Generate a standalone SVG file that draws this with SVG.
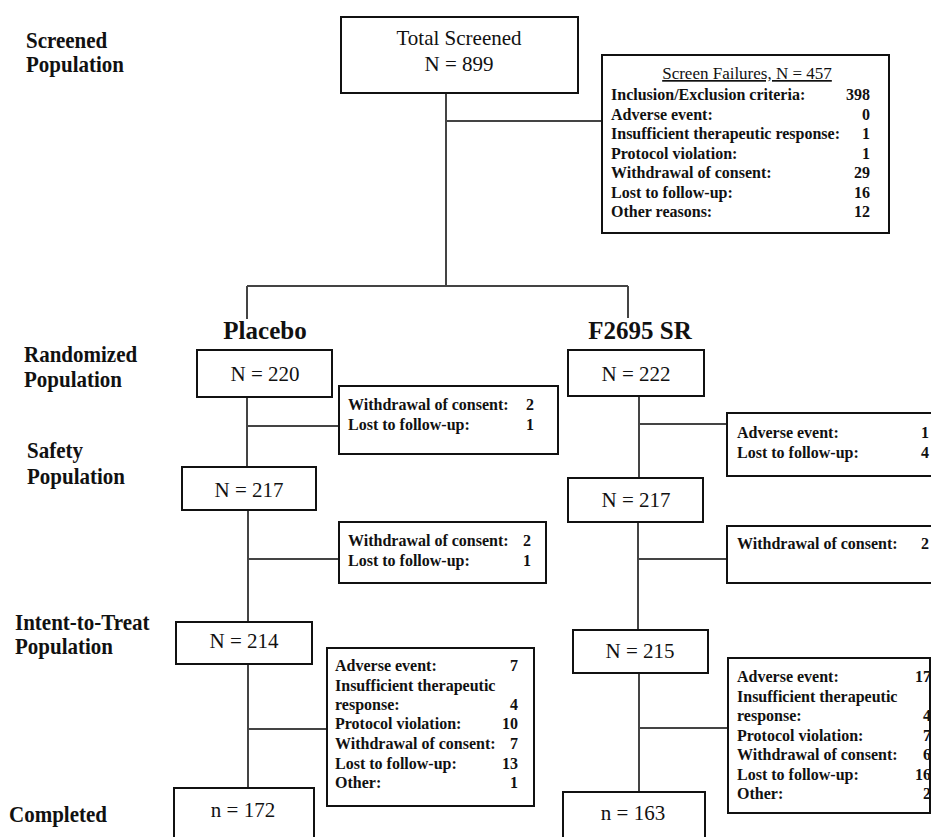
<svg xmlns="http://www.w3.org/2000/svg" width="931" height="837" viewBox="0 0 931 837">
  <style>
    .box { fill: #fff; stroke: #111; stroke-width: 2; }
    .wire { fill: none; stroke: #444; stroke-width: 2; }
    .stage { font-family: "Liberation Serif", "Times New Roman", serif; font-weight: bold; font-size: 23px; fill: #111; }
    .arm { font-family: "Liberation Serif", "Times New Roman", serif; font-weight: bold; font-size: 25px; fill: #111; text-anchor: middle; }
    .count { font-family: "Liberation Serif", "Times New Roman", serif; font-size: 21px; fill: #111; text-anchor: middle; }
    .row { font-family: "Liberation Serif", "Times New Roman", serif; font-weight: bold; font-size: 16px; fill: #111; }
    .num { text-anchor: end; }
  </style>
  <rect width="931" height="837" fill="#fff"/>

  <!-- stage labels on the left (tall, slightly condensed bold serif) -->
  <g id="stage-labels">
    <text class="stage" transform="translate(26,48) scale(0.913,1)">Screened</text>
    <text class="stage" transform="translate(26,72) scale(0.913,1)">Population</text>
    <text class="stage" transform="translate(24,362) scale(0.913,1)">Randomized</text>
    <text class="stage" transform="translate(24,387) scale(0.913,1)">Population</text>
    <text class="stage" transform="translate(27,458) scale(0.913,1)">Safety</text>
    <text class="stage" transform="translate(27,484) scale(0.913,1)">Population</text>
    <text class="stage" transform="translate(15,630) scale(0.913,1)">Intent-to-Treat</text>
    <text class="stage" transform="translate(15,654) scale(0.913,1)">Population</text>
    <text class="stage" transform="translate(9,822) scale(0.913,1)">Completed</text>
  </g>

  <!-- connectors -->
  <g id="connectors">
    <path class="wire" d="M446,93 V286 M446,121 H602 M247,286 H628 M247,286 V319 M628,286 V318"/>
    <!-- placebo arm -->
    <path class="wire" d="M247,397 V467 M247,426 H339"/>
    <path class="wire" d="M248,510 V622 M248,559 H339"/>
    <path class="wire" d="M248,664 V788 M248,729 H327"/>
    <!-- active arm -->
    <path class="wire" d="M639,396 V478 M639,424 H727"/>
    <path class="wire" d="M638,522 V630 M638,559 H727"/>
    <path class="wire" d="M639,673 V792 M639,728 H728"/>
  </g>

  <g id="total-screened">
    <rect class="box" x="341" y="17" width="237" height="76"/>
    <text class="count" x="459" y="45">Total Screened</text>
    <text class="count" x="459" y="71">N = 899</text>
  </g>

  <g id="screen-failures">
    <rect class="box" x="602" y="55" width="287" height="178"/>
    <text x="747" y="79" text-anchor="middle" font-family="Liberation Serif, Times New Roman, serif" font-size="17" fill="#111" text-decoration="underline">Screen Failures, N = 457</text>
    <text class="row" x="611" y="100">Inclusion/Exclusion criteria:</text>
    <text class="row num" x="870" y="100">398</text>
    <text class="row" x="611" y="119.5">Adverse event:</text>
    <text class="row num" x="870" y="119.5">0</text>
    <text class="row" x="611" y="139">Insufficient therapeutic response:</text>
    <text class="row num" x="870" y="139">1</text>
    <text class="row" x="611" y="158.5">Protocol violation:</text>
    <text class="row num" x="870" y="158.5">1</text>
    <text class="row" x="611" y="178">Withdrawal of consent:</text>
    <text class="row num" x="870" y="178">29</text>
    <text class="row" x="611" y="197.5">Lost to follow-up:</text>
    <text class="row num" x="870" y="197.5">16</text>
    <text class="row" x="611" y="217">Other reasons:</text>
    <text class="row num" x="870" y="217">12</text>
  </g>

  <g id="arm-placebo">
    <text class="arm" x="265" y="339">Placebo</text>
  </g>
  <g id="arm-active">
    <text class="arm" x="640" y="339">F2695 SR</text>
  </g>

  <!-- placebo arm nodes -->
  <g id="placebo-randomized">
    <rect class="box" x="197" y="350" width="135" height="47"/>
    <text class="count" x="265" y="381">N = 220</text>
  </g>
  <g id="placebo-drop-1">
    <rect class="box" x="339" y="386" width="219" height="68"/>
    <text class="row" x="348" y="410">Withdrawal of consent:</text>
    <text class="row num" x="534" y="410">2</text>
    <text class="row" x="348" y="430">Lost to follow-up:</text>
    <text class="row num" x="534" y="430">1</text>
  </g>
  <g id="placebo-safety">
    <rect class="box" x="182" y="467" width="134" height="43"/>
    <text class="count" x="249" y="497">N = 217</text>
  </g>
  <g id="placebo-drop-2">
    <rect class="box" x="339" y="522" width="207" height="61"/>
    <text class="row" x="348" y="546">Withdrawal of consent:</text>
    <text class="row num" x="531" y="546">2</text>
    <text class="row" x="348" y="566">Lost to follow-up:</text>
    <text class="row num" x="531" y="566">1</text>
  </g>
  <g id="placebo-itt">
    <rect class="box" x="176" y="622" width="136" height="42"/>
    <text class="count" x="244" y="648">N = 214</text>
  </g>
  <g id="placebo-drop-3">
    <rect class="box" x="327" y="648" width="207" height="158"/>
    <text class="row" x="335" y="671">Adverse event:</text>
    <text class="row num" x="518" y="671">7</text>
    <text class="row" x="335" y="691">Insufficient therapeutic</text>
    <text class="row" x="335" y="710">response:</text>
    <text class="row num" x="518" y="710">4</text>
    <text class="row" x="335" y="729">Protocol violation:</text>
    <text class="row num" x="518" y="729">10</text>
    <text class="row" x="335" y="749">Withdrawal of consent:</text>
    <text class="row num" x="518" y="749">7</text>
    <text class="row" x="335" y="769">Lost to follow-up:</text>
    <text class="row num" x="518" y="769">13</text>
    <text class="row" x="335" y="788">Other:</text>
    <text class="row num" x="518" y="788">1</text>
  </g>
  <g id="placebo-completed">
    <rect class="box" x="174" y="788" width="140" height="60"/>
    <text class="count" x="243" y="817">n = 172</text>
  </g>

  <!-- active arm nodes -->
  <g id="active-randomized">
    <rect class="box" x="568" y="350" width="136" height="46"/>
    <text class="count" x="636" y="381">N = 222</text>
  </g>
  <g id="active-drop-1">
    <rect class="box" x="727" y="413" width="220" height="63"/>
    <text class="row" x="737" y="438">Adverse event:</text>
    <text class="row num" x="929" y="438">1</text>
    <text class="row" x="737" y="458">Lost to follow-up:</text>
    <text class="row num" x="929" y="458">4</text>
  </g>
  <g id="active-safety">
    <rect class="box" x="568" y="478" width="135" height="44"/>
    <text class="count" x="636" y="507">N = 217</text>
  </g>
  <g id="active-drop-2">
    <rect class="box" x="727" y="526" width="220" height="57"/>
    <text class="row" x="737" y="549">Withdrawal of consent:</text>
    <text class="row num" x="929" y="549">2</text>
  </g>
  <g id="active-itt">
    <rect class="box" x="573" y="630" width="135" height="43"/>
    <text class="count" x="640" y="658">N = 215</text>
  </g>
  <g id="active-drop-3">
    <rect class="box" x="728" y="658" width="202" height="155"/>
    <text class="row" x="737" y="682">Adverse event:</text>
    <text class="row num" x="931" y="682">17</text>
    <text class="row" x="737" y="702">Insufficient therapeutic</text>
    <text class="row" x="737" y="721">response:</text>
    <text class="row num" x="931" y="721">4</text>
    <text class="row" x="737" y="741">Protocol violation:</text>
    <text class="row num" x="931" y="741">7</text>
    <text class="row" x="737" y="760">Withdrawal of consent:</text>
    <text class="row num" x="931" y="760">6</text>
    <text class="row" x="737" y="780">Lost to follow-up:</text>
    <text class="row num" x="931" y="780">16</text>
    <text class="row" x="737" y="799">Other:</text>
    <text class="row num" x="931" y="799">2</text>
  </g>
  <g id="active-completed">
    <rect class="box" x="563" y="792" width="142" height="60"/>
    <text class="count" x="633" y="820">n = 163</text>
  </g>
</svg>
